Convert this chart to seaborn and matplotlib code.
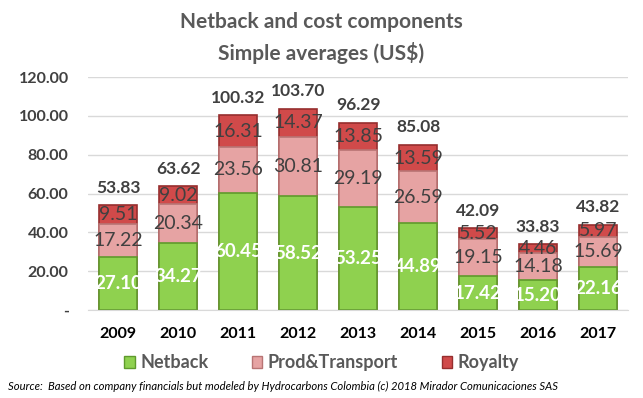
import matplotlib
matplotlib.use("Agg")
import matplotlib.pyplot as plt
import numpy as np
import pandas as pd
import seaborn as sns
from matplotlib.patches import Patch

years = ["2009", "2010", "2011", "2012", "2013", "2014", "2015", "2016", "2017"]
netback = [27.10, 34.27, 60.45, 58.52, 53.25, 44.89, 17.42, 15.20, 22.16]
prod_transport = [17.22, 20.34, 23.56, 30.81, 29.19, 26.59, 19.15, 14.18, 15.69]
royalty = [9.51, 9.02, 16.31, 14.37, 13.85, 13.59, 5.52, 4.46, 5.97]
totals = [53.83, 63.62, 100.32, 103.70, 96.29, 85.08, 42.09, 33.83, 43.82]

df = pd.DataFrame({"year": years, "Netback": netback,
                   "Prod&Transport": prod_transport, "Royalty": royalty})
df["lvl2"] = df["Netback"] + df["Prod&Transport"]
df["lvl3"] = df["lvl2"] + df["Royalty"]

green, green_edge = "#8fd14f", "#5f9a2c"
pink, pink_edge = "#e6a3a3", "#b87474"
red, red_edge = "#d04a4a", "#962e2e"
grid_c = "#d9d9d9"
txt = "#404040"

sns.set_style("white")
plt.rcParams["font.family"] = ["Lato", "DejaVu Sans"]

fig = plt.figure(figsize=(6.43, 3.98), dpi=100)
ax = fig.add_axes([0.1369, 0.2211, 0.8398, 0.5854])

w = 0.63
sns.barplot(data=df, x="year", y="lvl3", color=red, saturation=1, width=w,
            edgecolor=red_edge, linewidth=1.2, ax=ax)
sns.barplot(data=df, x="year", y="lvl2", color=pink, saturation=1, width=w,
            edgecolor=pink_edge, linewidth=1.2, ax=ax)
sns.barplot(data=df, x="year", y="Netback", color=green, saturation=1, width=w,
            edgecolor=green_edge, linewidth=1.2, ax=ax)

ax.set_ylim(0, 120)
ax.set_xlim(-0.5, len(years) - 0.5)
ax.set_yticks(np.arange(0, 121, 20))
ax.set_yticklabels(["-"] + [f"{v:.2f}" for v in np.arange(20, 121, 20)])
ax.yaxis.grid(True, color=grid_c, linewidth=1)
ax.set_axisbelow(True)
for s in ["top", "right", "left"]:
    ax.spines[s].set_visible(False)
ax.spines["bottom"].set_color(grid_c)
ax.tick_params(axis="both", length=0)
ax.tick_params(axis="y", pad=14, labelsize=11.5, labelcolor=txt)
ax.tick_params(axis="x", pad=12, labelsize=11.5, labelcolor="black")
for lab in ax.get_yticklabels() + ax.get_xticklabels():
    lab.set_fontweight("bold")
ax.set_xlabel("")
ax.set_ylabel("")

for i in range(len(years)):
    ax.text(i, netback[i] / 2, f"{netback[i]:.2f}", ha="center", va="center",
            color="white", fontsize=13.5, fontweight="bold")
    ax.text(i, netback[i] + prod_transport[i] / 2, f"{prod_transport[i]:.2f}",
            ha="center", va="center", color=txt, fontsize=14)
    ax.text(i, df["lvl2"][i] + royalty[i] / 2, f"{royalty[i]:.2f}",
            ha="center", va="center", color=txt, fontsize=14)
    ax.annotate(f"{totals[i]:.2f}", (i, df["lvl3"][i]), xytext=(0, 7),
                textcoords="offset points", ha="center", va="bottom",
                color=txt, fontsize=12.5, fontweight="bold")

fig.text(0.5, 0.945, "Netback and cost components", ha="center", va="center",
         fontsize=15, fontweight="bold", color="#595959")
fig.text(0.5, 0.868, "Simple averages (US$)", ha="center", va="center",
         fontsize=15, fontweight="bold", color="#595959")

handles = [Patch(facecolor=green, edgecolor=green_edge, label="Netback"),
           Patch(facecolor=pink, edgecolor=pink_edge, label="Prod&Transport"),
           Patch(facecolor=red, edgecolor=red_edge, label="Royalty")]
leg = fig.legend(handles=handles, loc="center", bbox_to_anchor=(0.5, 0.088), ncol=3,
                 frameon=False, handlelength=0.6, handleheight=0.6, handletextpad=0.3,
                 columnspacing=2.4, prop={"size": 13, "weight": "bold"})
for t in leg.get_texts():
    t.set_color("#595959")

fig.text(0.012, 0.03, "Source:  Based on company financials but modeled by Hydrocarbons "
         "Colombia (c) 2018 Mirador Comunicaciones SAS", ha="left", va="center",
         fontsize=8.1, style="italic", color="black")

fig.savefig("out.png", dpi=100)
